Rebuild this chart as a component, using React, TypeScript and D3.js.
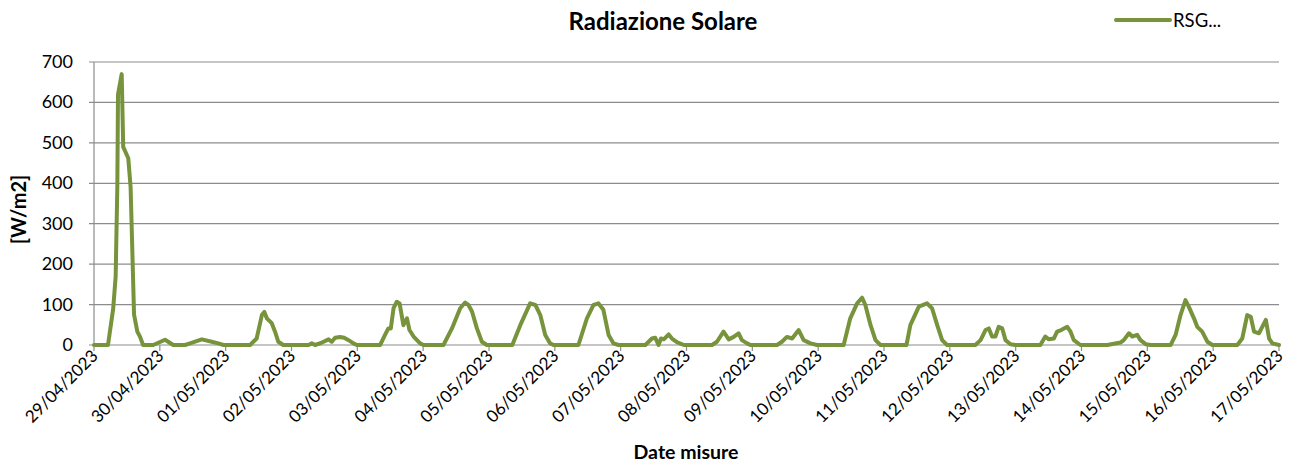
import React from "react";
import * as d3 from "d3";

// Hours since 29/04/2023 00:00 and W/m2 values
const hours: number[] = [
  0, 5.1, 7.0, 7.9, 8.5, 8.75, 10.1, 10.65, 12.5, 13.35, 14.6, 15.8, 16.8, 17.9,
  21.6, 25.9, 28.9,
  33.2, 35, 39.3, 42.9, 45.3, 47.2,
  56.9, 59.3, 61.2, 62.1, 63, 64.8, 66, 67.2, 69,
  78.2, 79.4, 80.6, 83.1, 85.5, 86.7, 87.9, 89.7, 91.2, 92.8, 94.6, 95.8,
  104.3, 106.1, 107.3, 108.2, 109.2, 110.4, 111.4, 112.8, 114.1, 115, 116.5, 118.9, 120.1,
  127.4, 130.5, 133.5, 135.3, 136.5, 137.8, 139.6, 141.4, 143.2,
  152.5, 155.4, 159, 160.9, 162.7, 164.5, 166.3, 167.5,
  176.6, 179.7, 182.1, 183.9, 185.7, 187.6, 189.4, 191.2,
  201, 203.4, 204.6, 205.8, 206.7, 207.7, 209.5, 210.7, 212.5, 215,
  225.3, 227.1, 229.5, 231.4, 233.2, 235, 236.2, 238.1, 239.3,
  249, 250.8, 252.6, 254.5, 256.9, 258.7, 261.2, 263.6,
  273.3, 275.7, 278.2, 280, 281.2, 283.1, 284.9, 286.7,
  296.2, 297.6, 300.7, 303.7, 305.5, 307.4, 309.2, 311,
  321.3, 323.2, 325, 326.2, 327.4, 328.6, 329.8, 331.1, 332.3, 334.1, 335.9,
  345, 346.8, 348.1, 349.9, 351.1, 352.6, 354.8, 356, 357.2, 359.6,
  369.4, 374.2, 375.4, 377.3, 378.5, 380.3, 381.5, 383.4, 385.2,
  392.5, 394.3, 396.1, 397.9, 399.1, 401, 402.2, 404, 405.9, 407.7,
  416.8, 418.6, 420.4, 421.7, 422.9, 424.7, 427.2, 428.4, 429.6, 432,
];
const rsg: number[] = [
  0, 0, 90, 170, 390, 620, 670, 490, 462, 390, 75, 33, 20, 0,
  0, 13, 0,
  0, 4, 14, 8, 4, 0,
  0, 16, 74, 82, 66, 54, 33, 8, 0,
  0, 4, 0, 6, 14, 8, 18, 20, 18, 12, 4, 0,
  0, 25, 41, 41, 91, 107, 103, 49, 66, 37, 21, 4, 0,
  0, 41, 91, 105, 99, 83, 41, 8, 0,
  0, 49, 103, 99, 74, 25, 4, 0,
  0, 66, 99, 103, 87, 25, 4, 0,
  0, 16, 18, 0, 16, 14, 26, 16, 7, 0,
  0, 8, 33, 14, 20, 29, 12, 4, 0,
  0, 8, 20, 16, 37, 12, 4, 0,
  0, 66, 103, 117, 99, 49, 12, 0,
  0, 49, 95, 103, 91, 49, 12, 0,
  0, 12, 37, 41, 21, 21, 45, 41, 12, 2, 0,
  0, 21, 14, 16, 33, 37, 45, 33, 12, 0,
  0, 6, 12, 29, 21, 25, 12, 2, 0,
  0, 25, 74, 111, 95, 66, 45, 33, 8, 0,
  0, 16, 74, 70, 33, 29, 62, 16, 4, 0,
];
const dateLabels: string[] = [
  "29/04/2023", "30/04/2023", "01/05/2023", "02/05/2023", "03/05/2023", "04/05/2023",
  "05/05/2023", "06/05/2023", "07/05/2023", "08/05/2023", "09/05/2023", "10/05/2023",
  "11/05/2023", "12/05/2023", "13/05/2023", "14/05/2023", "15/05/2023", "16/05/2023",
  "17/05/2023",
];
const yTicks: number[] = [0, 100, 200, 300, 400, 500, 600, 700];
const seriesName = "RSG...";

const FONT = "Lato, 'Open Sans', sans-serif";
const GREEN = "#77933C";
const GRID = "#8c8c8c";

export default function App() {
  const W = 1295, H = 464;
  const left = 94, right = 1279, top = 62, bottom = 345;
  const start = new Date(2023, 3, 29, 0, 0);
  const end = new Date(2023, 4, 17, 0, 0);
  const x = d3.scaleTime().domain([start, end]).range([left, right]);
  const y = d3.scaleLinear().domain([0, 700]).range([bottom, top]);
  const pts = hours.map((h, i) => ({ t: new Date(start.getTime() + h * 3600000), v: rsg[i] }));
  const line = d3.line<{ t: Date; v: number }>().x((d) => x(d.t)).y((d) => y(d.v)).curve(d3.curveLinear);
  const days = dateLabels.map((_, i) => new Date(2023, 3, 29 + i));

  return (
    <svg width={W} height={H} style={{ position: "absolute", left: 0, top: 0, background: "#fff" }}>
      <text x={663} y={30} textAnchor="middle" fontFamily={FONT} fontWeight="bold" fontSize={24} fill="#000">
        Radiazione Solare
      </text>
      {/* legend */}
      <line x1={1116} x2={1170} y1={20} y2={20} stroke={GREEN} strokeWidth={4} strokeLinecap="round" />
      <text x={1173} y={26.5} fontFamily={FONT} fontSize={18.5} fill="#000">{seriesName}</text>
      {/* grid */}
      {yTicks.map((t) => (
        <g key={t}>
          <line x1={left - 5} x2={right} y1={y(t)} y2={y(t)} stroke={GRID} strokeWidth={1.2} />
          <text x={73} y={y(t) + 6} textAnchor="end" fontFamily={FONT} fontSize={18} fill="#000">{t}</text>
        </g>
      ))}
      <line x1={left} x2={left} y1={top} y2={bottom} stroke={GRID} strokeWidth={1.2} />
      {days.map((d, i) => (
        <g key={i}>
          <line x1={x(d)} x2={x(d)} y1={bottom} y2={bottom + 6} stroke={GRID} strokeWidth={1.2} />
          <text
            transform={`translate(${x(d) + 5},${bottom + 12}) rotate(-45)`}
            textAnchor="end"
            fontFamily={FONT}
            fontSize={17}
            fill="#000"
          >
            {dateLabels[i]}
          </text>
        </g>
      ))}
      <path d={line(pts) || ""} fill="none" stroke={GREEN} strokeWidth={4} strokeLinejoin="round" strokeLinecap="round" />
      <text
        transform={`translate(26,${(top + bottom) / 2 + 6}) rotate(-90)`}
        textAnchor="middle"
        fontFamily={FONT}
        fontWeight="bold"
        fontSize={20}
        fill="#000"
      >
        [W/m2]
      </text>
      <text x={686} y={459} textAnchor="middle" fontFamily={FONT} fontWeight="bold" fontSize={19.5} fill="#000">
        Date misure
      </text>
    </svg>
  );
}
